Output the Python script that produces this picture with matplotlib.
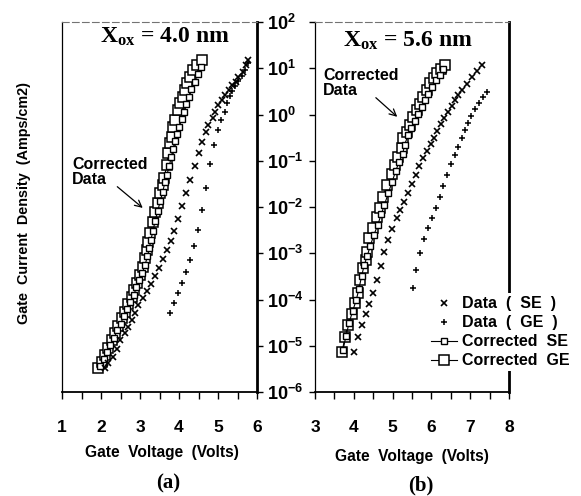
import numpy as np
import matplotlib
matplotlib.use("Agg")
import matplotlib.pyplot as plt
from matplotlib.lines import Line2D

plt.rcParams['font.family'] = ['Liberation Sans', 'DejaVu Sans']
plt.rcParams['font.weight'] = 'bold'
plt.rcParams['mathtext.fontset'] = 'custom'
plt.rcParams['mathtext.rm'] = 'Liberation Serif'
plt.rcParams['mathtext.bf'] = 'Liberation Serif:bold'
plt.rcParams['mathtext.sf'] = 'Liberation Sans:bold'
plt.rcParams['mathtext.it'] = 'Liberation Serif:italic'

# ---------------- data (gate voltage in V, log10 of current density in A/cm2) ----------------
# panel (a): Xox = 4.0 nm
a_se_v = [2.10, 2.18, 2.31, 2.41, 2.49, 2.62, 2.70, 2.80, 2.88, 2.95, 3.08, 3.19, 3.29, 3.39,
          3.49, 3.60, 3.70, 3.80, 3.88, 3.98, 4.08, 4.19, 4.29, 4.42, 4.50, 4.60, 4.68, 4.75,
          4.86, 4.93, 5.01, 5.11, 5.19, 5.27, 5.37, 5.45, 5.52, 5.63, 5.73, 5.76]
a_se_logj = [-5.48, -5.37, -5.24, -5.07, -4.88, -4.72, -4.59, -4.44, -4.29, -4.12, -3.97, -3.82,
             -3.66, -3.49, -3.32, -3.12, -2.93, -2.74, -2.52, -2.26, -1.98, -1.70, -1.42, -1.11,
             -0.83, -0.59, -0.38, -0.23, -0.08, 0.05, 0.21, 0.31, 0.42, 0.53, 0.64, 0.70, 0.81,
             0.92, 1.07, 1.18]
a_ge_v = [3.77, 3.87, 3.97, 4.08, 4.18, 4.28, 4.38, 4.49, 4.59, 4.69, 4.79, 4.90, 5.00, 5.08,
          5.18, 5.23, 5.31, 5.36, 5.44, 5.51, 5.62, 5.69, 5.77]
a_ge_logj = [-4.29, -4.08, -3.86, -3.64, -3.41, -3.15, -2.84, -2.50, -2.06, -1.59, -1.07, -0.66,
             -0.34, -0.12, 0.05, 0.25, 0.40, 0.51, 0.62, 0.72, 0.83, 0.96, 1.11]
a_cse_v = [1.98, 2.08, 2.16, 2.24, 2.33, 2.42, 2.50, 2.59, 2.67, 2.75, 2.84, 2.91, 2.98, 3.06,
           3.13, 3.19, 3.24, 3.28, 3.33, 3.39, 3.45, 3.52, 3.58, 3.64, 3.69, 3.75, 3.80, 3.85,
           3.89, 3.94, 4.00, 4.07, 4.13, 4.19, 4.25, 4.32, 4.40, 4.49, 4.56]
a_cse_logj = [-5.44, -5.29, -5.14, -4.99, -4.83, -4.67, -4.52, -4.36, -4.21, -4.05, -3.90, -3.74,
              -3.58, -3.42, -3.25, -3.07, -2.89, -2.71, -2.52, -2.30, -2.09, -1.88, -1.67, -1.47,
              -1.30, -1.12, -0.92, -0.74, -0.58, -0.42, -0.26, -0.10, 0.06, 0.22, 0.38, 0.55,
              0.71, 0.88, 1.02]
a_cge_v = [1.92, 2.03, 2.10, 2.18, 2.28, 2.36, 2.44, 2.54, 2.62, 2.69, 2.79, 2.85, 2.92, 3.00,
           3.08, 3.13, 3.18, 3.21, 3.26, 3.33, 3.38, 3.46, 3.51, 3.59, 3.62, 3.69, 3.72, 3.77,
           3.82, 3.85, 3.90, 3.97, 4.03, 4.10, 4.15, 4.21, 4.28, 4.36, 4.46, 4.59]
a_cge_logj = [-5.48, -5.35, -5.20, -5.05, -4.88, -4.72, -4.57, -4.40, -4.27, -4.10, -3.95, -3.79,
              -3.64, -3.47, -3.30, -3.10, -2.93, -2.76, -2.56, -2.32, -2.11, -1.91, -1.70, -1.52,
              -1.37, -1.09, -0.83, -0.62, -0.49, -0.27, -0.12, 0.10, 0.25, 0.38, 0.53, 0.68,
              0.81, 0.96, 1.07, 1.18]

# panel (b): Xox = 5.6 nm
b_se_v = [4.01, 4.11, 4.21, 4.31, 4.39, 4.49, 4.60, 4.70, 4.78, 4.88, 4.98, 5.11, 5.19, 5.29,
          5.40, 5.50, 5.60, 5.68, 5.78, 5.89, 5.99, 6.07, 6.14, 6.25, 6.32, 6.43, 6.53, 6.61,
          6.69, 6.79, 6.92, 7.05, 7.18, 7.30]
b_se_logj = [-5.14, -4.81, -4.55, -4.31, -4.10, -3.86, -3.58, -3.28, -2.97, -2.71, -2.48, -2.24,
             -2.06, -1.89, -1.70, -1.50, -1.31, -1.11, -0.94, -0.79, -0.64, -0.51, -0.36, -0.21,
             -0.08, 0.05, 0.18, 0.31, 0.42, 0.53, 0.66, 0.81, 0.94, 1.07]
b_ge_v = [5.53, 5.60, 5.71, 5.81, 5.91, 6.02, 6.12, 6.22, 6.30, 6.40, 6.51, 6.61, 6.69, 6.79,
          6.87, 6.94, 7.02, 7.12, 7.23, 7.33, 7.43]
b_ge_logj = [-3.75, -3.36, -2.99, -2.69, -2.45, -2.24, -2.02, -1.78, -1.55, -1.31, -1.07, -0.88,
             -0.70, -0.51, -0.34, -0.18, -0.03, 0.12, 0.25, 0.38, 0.49]
b_cse_v = [3.72, 3.80, 3.88, 3.97, 4.06, 4.13, 4.20, 4.27, 4.35, 4.42, 4.52, 4.62, 4.71, 4.79,
           4.89, 4.99, 5.08, 5.17, 5.26, 5.31, 5.40, 5.48, 5.57, 5.66, 5.75, 5.83, 5.92, 6.02,
           6.12, 6.22, 6.30]
b_cse_logj = [-5.10, -4.78, -4.50, -4.25, -4.02, -3.78, -3.50, -3.25, -3.05, -2.85, -2.60, -2.38,
              -2.15, -1.95, -1.70, -1.45, -1.22, -1.02, -0.85, -0.65, -0.45, -0.30, -0.14, 0.02,
              0.17, 0.31, 0.45, 0.60, 0.74, 0.86, 0.99]
b_cge_v = [3.70, 3.77, 3.85, 3.95, 4.03, 4.11, 4.16, 4.24, 4.31, 4.34, 4.39, 4.49, 4.60, 4.68,
           4.75, 4.86, 4.98, 5.06, 5.14, 5.24, 5.27, 5.37, 5.45, 5.53, 5.63, 5.71, 5.78, 5.89,
           5.96, 6.07, 6.14, 6.25, 6.35]
b_cge_logj = [-5.14, -4.81, -4.55, -4.31, -4.08, -3.86, -3.58, -3.32, -3.15, -2.97, -2.67, -2.45,
              -2.22, -2.02, -1.78, -1.52, -1.29, -1.09, -0.92, -0.72, -0.51, -0.38, -0.23, -0.05,
              0.10, 0.23, 0.38, 0.53, 0.68, 0.79, 0.90, 0.98, 1.07]

y_ticks = [1e-6, 1e-5, 1e-4, 1e-3, 1e-2, 1e-1, 1e0, 1e1, 1e2]
y_tick_labels = [r"$\mathsf{10^{-6}}$", r"$\mathsf{10^{-5}}$", r"$\mathsf{10^{-4}}$",
                 r"$\mathsf{10^{-3}}$", r"$\mathsf{10^{-2}}$", r"$\mathsf{10^{-1}}$",
                 r"$\mathsf{10^{0}}$", r"$\mathsf{10^{1}}$", r"$\mathsf{10^{2}}$"]
a_xticks = [1, 2, 3, 4, 5, 6]
b_xticks = [3, 4, 5, 6, 7, 8]
titles = [r"$\mathbf{X_{ox}}$ = 4.0 nm", r"$\mathbf{X_{ox}}$ = 5.6 nm"]
legend_labels = ["Data  (  SE  )", "Data  (  GE  )", "Corrected  SE", "Corrected  GE"]

# ---------------- figure ----------------
W, H = 581, 496
fig = plt.figure(figsize=(W / 100, H / 100), dpi=100)

def px_rect(x0, x1, ytop, ybot):
    return [x0 / W, 1 - ybot / H, (x1 - x0) / W, (ybot - ytop) / H]

ax1 = fig.add_axes(px_rect(62, 257, 22, 392))
ax2 = fig.add_axes(px_rect(315, 509, 22, 392))

def draw(ax, se_v, se_l, ge_v, ge_l, cse_v, cse_l, cge_v, cge_l):
    ax.plot(cge_v, np.power(10.0, cge_l), '-', color='black', lw=0.8, marker='s', ms=6.5,
            mfc='white', mec='black', mew=1.1, zorder=3)
    ax.plot(cse_v, np.power(10.0, cse_l), '-', color='black', lw=0.8, marker='s', ms=4.5,
            mfc='white', mec='black', mew=1.0, zorder=4)
    ax.plot(se_v, np.power(10.0, se_l), ls='none', marker='x', ms=5, mec='black', mew=1.2, zorder=4)
    ax.plot(ge_v, np.power(10.0, ge_l), ls='none', marker='+', ms=5, mec='black', mew=1.1, zorder=4)

draw(ax1, a_se_v, a_se_logj, a_ge_v, a_ge_logj, a_cse_v, a_cse_logj, a_cge_v, a_cge_logj)
draw(ax2, b_se_v, b_se_logj, b_ge_v, b_ge_logj, b_cse_v, b_cse_logj, b_cge_v, b_cge_logj)

for ax, xt in ((ax1, a_xticks), (ax2, b_xticks)):
    ax.set_yscale('log')
    ax.set_ylim(1e-6, 1e2)
    ax.set_xlim(xt[0], xt[-1])
    ax.set_xticks(xt)
    ax.set_xticklabels([str(t) for t in xt])
    ax.set_xticks([t + 0.5 for t in xt[:-1]], minor=True)
    ax.tick_params(axis='x', which='both', direction='out', length=5, width=1.0,
                   labelsize=12.5, pad=15, top=False)
    ax.set_yticks(y_ticks)
    ax.yaxis.set_minor_locator(matplotlib.ticker.NullLocator())
    ax.spines['top'].set_linestyle((0, (6, 3)))
    ax.spines['top'].set_color('0.45')
    ax.spines['top'].set_linewidth(0.8)
    ax.spines['bottom'].set_linewidth(1.3)
    for lab in ax.get_xticklabels():
        lab.set_fontweight('bold')

# left panel: y labels on the right side
ax1.yaxis.tick_right()
ax1.set_yticklabels(y_tick_labels)
ax1.tick_params(axis='y', which='major', direction='out', length=4, width=1.0,
                labelsize=13, pad=3, left=False, right=True)
ax1.spines['left'].set_linewidth(0.9)
ax1.spines['right'].set_linewidth(2.0)

ax2.set_yticklabels([])
ax2.tick_params(axis='y', which='major', direction='out', length=4, width=1.0,
                left=True, right=False, labelleft=False)
ax2.spines['left'].set_linewidth(0.9)
ax2.spines['right'].set_linewidth(2.0)

# titles inside panels
ax1.text(165 / W, 1 - 37 / H, titles[0], transform=fig.transFigure, ha='center', va='center',
         fontsize=17, fontfamily='Liberation Serif', fontweight='bold')
ax2.text(408 / W, 1 - 41 / H, titles[1], transform=fig.transFigure, ha='center', va='center',
         fontsize=17, fontfamily='Liberation Serif', fontweight='bold')

# annotations
ax1.annotate("Corrected\nData", xy=(3.07, 10 ** -2.02), xytext=(72 / W, 1 - 172 / H),
             textcoords='figure fraction', ha='left', va='center', fontsize=11.5,
             fontweight='bold', linespacing=0.95,
             arrowprops=dict(arrowstyle='->', color='black', lw=0.9,
                             shrinkA=0, shrinkB=0, mutation_scale=12,
                             patchA=None, relpos=(0.6, 0.0)))
ax2.annotate("Corrected\nData", xy=(5.12, 10 ** -0.05), xytext=(323 / W, 1 - 83 / H),
             textcoords='figure fraction', ha='left', va='center', fontsize=11.5,
             fontweight='bold', linespacing=0.95,
             arrowprops=dict(arrowstyle='->', color='black', lw=0.9,
                             shrinkA=0, shrinkB=0, mutation_scale=12,
                             patchA=None, relpos=(0.7, 0.0)))

# axis labels
fig.text(162 / W, 1 - 452 / H, "Gate  Voltage  (Volts)", ha='center', va='center',
         fontsize=11.2, fontweight='bold')
fig.text(412 / W, 1 - 457 / H, "Gate  Voltage  (Volts)", ha='center', va='center',
         fontsize=11.2, fontweight='bold')
fig.text(24 / W, 1 - 203 / H, "Gate  Current  Density  (Amps/cm2)", rotation=90,
         ha='center', va='center', fontsize=10.4, fontweight='bold')
fig.text(168 / W, 1 - 483 / H, "(a)", ha='center', va='center', fontsize=15,
         fontfamily='Liberation Serif', fontweight='bold')
fig.text(421 / W, 1 - 485 / H, "(b)", ha='center', va='center', fontsize=15,
         fontfamily='Liberation Serif', fontweight='bold')

# legend
handles = [
    Line2D([], [], ls='none', marker='x', ms=5, mec='black', mew=1.2),
    Line2D([], [], ls='none', marker='+', ms=5, mec='black', mew=1.1),
    Line2D([], [], color='black', lw=0.8, marker='s', ms=4.5, mfc='white', mec='black', mew=1.0),
    Line2D([], [], color='black', lw=0.8, marker='s', ms=6.5, mfc='white', mec='black', mew=1.1),
]
leg = ax2.legend(handles, legend_labels, loc='upper left',
                 bbox_to_anchor=(428 / W, 1 - 293 / H), bbox_transform=fig.transFigure,
                 frameon=True, facecolor='white', edgecolor='none', framealpha=1.0,
                 handlelength=1.6, handletextpad=0.3, labelspacing=0.25,
                 borderpad=0.2, borderaxespad=0.0, prop={'weight': 'bold', 'size': 11.5})
leg.get_frame().set_linewidth(0)

fig.savefig("out.png", dpi=100)
